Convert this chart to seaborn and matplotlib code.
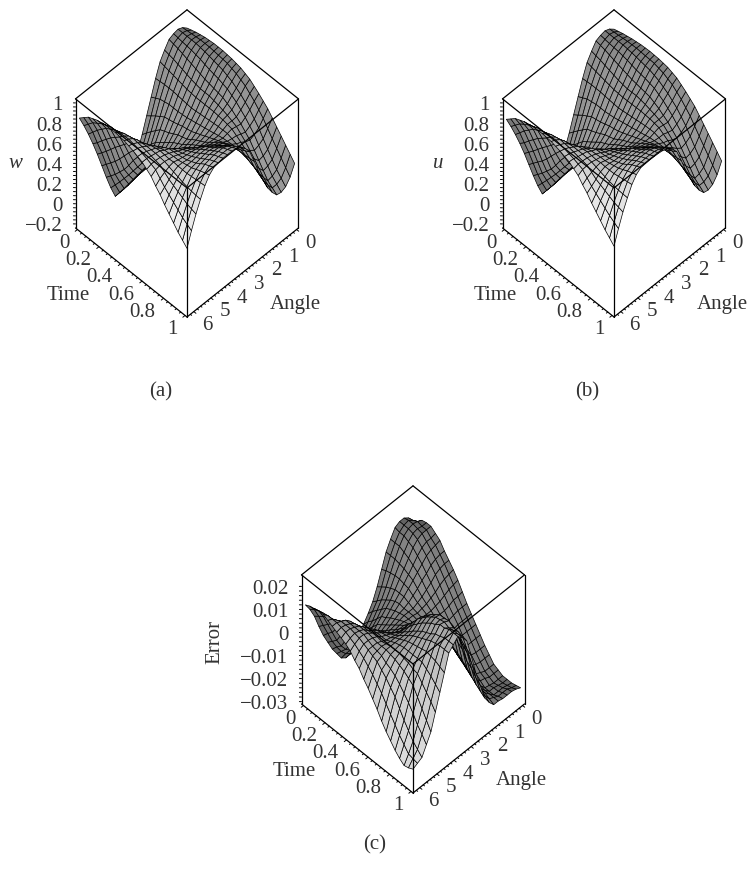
import numpy as np
import seaborn as sns
import matplotlib.pyplot as plt
from mpl_toolkits.mplot3d import proj3d

# rows are Time 0..1, columns are Angle 0..2pi (25 x 25 grid)
w_vals = [
    [.89, .93, .95, .94, .92, .85, .77, .64, .49, .34, .19, .06, -.06, -.14, -.19, -.21, -.21, -.09, .05, .20, .35, .49, .62, .74, .85],
    [.905, .935, .95, .935, .91, .84, .76, .645, .515, .375, .24, .12, .01, -.065, -.115, -.135, -.135, -.025, .10, .25, .40, .535, .675, .79, .89],
    [.92, .94, .95, .93, .90, .83, .75, .65, .54, .41, .29, .18, .08, .01, -.04, -.06, -.06, .04, .15, .30, .45, .59, .73, .84, .93],
    [.93, .945, .95, .925, .885, .815, .74, .65, .55, .44, .335, .235, .145, .08, .035, .02, .02, .11, .21, .35, .505, .64, .775, .87, .95],
    [.94, .95, .95, .92, .87, .80, .73, .65, .56, .47, .38, .29, .21, .15, .11, .10, .10, .18, .27, .41, .56, .69, .82, .90, .97],
    [.945, .95, .945, .91, .855, .785, .72, .645, .56, .48, .40, .325, .26, .215, .18, .175, .18, .255, .345, .475, .61, .73, .845, .92, .98],
    [.95, .95, .94, .90, .84, .77, .71, .64, .56, .49, .42, .36, .31, .28, .25, .25, .26, .33, .43, .54, .66, .77, .87, .94, .99],
    [.95, .945, .93, .885, .825, .76, .705, .635, .565, .505, .445, .395, .355, .335, .315, .325, .34, .405, .50, .60, .71, .805, .89, .945, .99],
    [.95, .94, .92, .87, .81, .75, .70, .63, .57, .52, .47, .43, .40, .39, .38, .40, .42, .48, .57, .66, .76, .84, .91, .95, .99],
    [.945, .935, .91, .86, .80, .75, .70, .635, .58, .53, .485, .455, .435, .435, .44, .465, .49, .54, .625, .705, .79, .86, .92, .955, .985],
    [.94, .93, .90, .85, .79, .75, .70, .64, .59, .54, .50, .48, .47, .48, .50, .53, .56, .60, .68, .75, .82, .88, .93, .96, .98],
    [.93, .915, .88, .835, .78, .74, .70, .645, .60, .56, .53, .515, .505, .525, .555, .585, .62, .655, .73, .785, .84, .885, .925, .95, .965],
    [.92, .90, .86, .82, .77, .73, .70, .65, .61, .58, .56, .55, .54, .57, .61, .64, .68, .71, .78, .82, .86, .89, .92, .94, .95],
    [.90, .875, .83, .79, .745, .715, .695, .655, .62, .60, .585, .58, .575, .615, .655, .685, .72, .75, .805, .835, .87, .89, .91, .925, .93],
    [.88, .85, .80, .76, .72, .70, .69, .66, .63, .62, .61, .61, .61, .66, .70, .73, .76, .79, .83, .85, .88, .89, .90, .91, .91],
    [.845, .81, .76, .72, .685, .68, .68, .66, .64, .64, .645, .65, .655, .70, .735, .76, .785, .805, .835, .855, .875, .885, .89, .89, .875],
    [.81, .77, .72, .68, .65, .66, .67, .66, .65, .66, .68, .69, .70, .74, .77, .79, .81, .82, .84, .86, .87, .88, .88, .87, .84],
    [.77, .72, .665, .63, .605, .62, .64, .645, .655, .68, .71, .725, .74, .78, .81, .825, .835, .84, .85, .86, .875, .865, .845, .82, .78],
    [.73, .67, .61, .58, .56, .58, .61, .63, .66, .70, .74, .76, .78, .82, .85, .86, .86, .86, .86, .87, .87, .85, .81, .77, .73],
    [.675, .605, .54, .51, .495, .53, .575, .615, .66, .71, .76, .79, .82, .855, .88, .89, .89, .885, .88, .88, .87, .835, .785, .73, .665],
    [.62, .54, .47, .44, .43, .48, .54, .60, .66, .72, .78, .82, .86, .89, .91, .92, .92, .91, .90, .89, .87, .82, .76, .69, .61],
    [.565, .48, .405, .375, .365, .425, .495, .57, .645, .725, .80, .85, .895, .925, .945, .95, .95, .94, .93, .91, .875, .81, .735, .65, .555],
    [.51, .42, .34, .31, .30, .37, .45, .54, .63, .73, .82, .88, .93, .96, .98, .98, .98, .97, .96, .93, .88, .80, .71, .61, .50],
    [.455, .36, .29, .265, .265, .33, .41, .51, .615, .735, .845, .91, .96, .985, 1.0, 1.0, 1.0, .99, .98, .945, .885, .795, .695, .58, .455],
    [.40, .30, .24, .22, .23, .29, .37, .48, .60, .74, .87, .94, .99, 1.01, 1.02, 1.02, 1.02, 1.01, 1.0, .96, .89, .79, .68, .55, .41],
]

# error in thousandths
err_milli = [
    [11, 14, 15.5, 15.5, 14.5, 11, 7, 1, -5, -10, -13.5, -16.5, -19, -22.5, -25, -25, -23.5, -20, -16.5, -12, -7.5, -2, 4, 8.5, 12],
    [12.5, 14.5, 16, 15.5, 14, 11, 7, 2, -3.5, -8, -11, -14, -16.5, -19, -21.5, -21.5, -20, -17.5, -14, -10, -5, 0, 5.5, 10, 13],
    [14.5, 15.5, 16, 15.5, 14, 11, 7, 2.5, -2, -6, -9, -12, -14, -16, -18, -18, -17, -15, -12, -8, -3, 2, 7, 11, 13.5],
    [15, 15, 15.5, 15, 13, 10, 6.5, 3, -1, -4.5, -7, -9.5, -11.5, -13.5, -15, -15, -14.5, -11.5, -8, -4, .5, 4, 8, 11.5, 14],
    [15, 15, 15, 14, 12, 9, 6, 3, 0, -3, -5, -7, -9, -11, -12, -12.5, -12, -8, -4, 0, 4, 6.5, 9, 12, 14],
    [13.5, 13, 13, 12, 10, 7.5, 5, 2.5, 0, -2, -4, -6, -7.5, -9, -10, -10, -9, -5, -1, 2.5, 6, 8, 10, 12, 13],
    [12, 11.5, 11, 10, 8, 6, 4, 2, 0, -1.5, -3, -4.5, -6, -7, -8, -7.5, -6, -2, 2, 5, 8, 10, 11, 12, 12],
    [9, 9, 8.5, 7.5, 5.5, 4, 2, .5, -1, -2, -2.5, -3.5, -4.5, -5.5, -6, -5, -2.5, .5, 3.5, 6, 8.5, 10, 11, 11.5, 11],
    [6.5, 6.5, 6, 5, 3, 1.5, 0, -1, -2, -2, -2, -2.5, -3, -3.5, -4, -2, 1, 3, 5, 7, 9, 10, 11, 11, 10],
    [4, 3.5, 3, 2, .5, -.5, -1.5, -2, -2.5, -2, -2, -1.5, -1.5, -2, -2, 0, 2, 4, 5.5, 7, 9, 10, 10.5, 10, 9],
    [1, .5, 0, -1, -2, -2.5, -3, -3, -3, -2.5, -2, -1, 0, 0, 0, 1.5, 3, 4.5, 6, 7.5, 9, 10, 10, 9, 7.5],
    [-2.5, -3, -3, -4, -4.5, -4.5, -4.5, -3.5, -3, -2, -.5, .5, 1.5, 2, 2, 3, 4, 5, 6, 7.5, 8.5, 9, 9, 7.5, 5],
    [-6, -6, -6, -6.5, -7, -6.5, -6, -4.5, -3, .5, 2.5, 3.5, 4.5, 5, 4.5, 4.5, 5, 5.5, 6, 7, 8, 8, 8, 6, 3],
    [-9, -9, -9, -9, -9.5, -8.5, -8, -6, -3.5, 1.5, 4.5, 6, 7, 7.5, 7, 6.5, 6.5, 7, 7, 7.5, 8, 7.5, 7, 4, 0],
    [-12, -12, -12, -12, -12, -11, -10, -7, -4, 3, 7, 8.5, 10, 10.5, 9.5, 8, 8, 8, 8, 8, 8, 7, 6, 2, -2.5],
    [-15, -15, -15, -15, -14.5, -13, -11.5, -8, -4, 3.5, 8.5, 10, 12, 12.5, 11.5, 10, 9.5, 9, 8.5, 8, 7.5, 5.5, 4, -.5, -5.5],
    [-18, -18, -18, -17.5, -17, -15, -13, -8.5, -4, 4.5, 10, 12, 14, 14.5, 13.5, 11.5, 11, 10, 9, 8, 7, 4.5, 2, -3, -8.5],
    [-20.5, -20.5, -20.5, -20, -19, -17, -14.5, -10, -5, 4, 10.5, 13, 15.5, 16, 15, 13, 12, 10.5, 9, 7.5, 6, 3, -.5, -6, -12],
    [-23, -23, -23, -22, -21, -18.5, -16, -11, -6, 4, 11, 14, 17, 17.5, 16.5, 14, 13, 11, 9, 7, 5, 1, -3, -9, -15],
    [-24, -24, -24, -23, -22.5, -20, -17.5, -12.5, -7.5, 2, 9.5, 13.5, 17, 18, 17.5, 15, 14, 11.5, 9, 6, 3.5, -1.5, -6.5, -12, -17.5],
    [-25, -25, -25, -24.5, -24, -21.5, -19, -14, -9, .5, 8.5, 13.5, 17.5, 18.5, 19, 16.5, 15, 12, 9, 5.5, 2, -4, -10, -15, -20],
    [-25, -25, -24.5, -24, -24, -22, -19.5, -15, -11, -3, 5.5, 11, 16, 17.5, 19, 17, 15.5, 11.5, 7.5, 3, -1.5, -7, -13, -17.5, -22],
    [-25, -24.5, -24, -24, -24, -22, -20, -16.5, -13, -4.5, 4, 10, 16, 18, 20, 18, 16, 11, 6, .5, -5, -10.5, -16, -20, -23.5],
    [-24.5, -24, -23, -23, -23, -22, -21, -18, -14.5, -7, 1, 8.5, 15.5, 18, 20, 18, 16, 10, 4, -2, -8.5, -13, -18, -20.5, -23],
    [-24, -23, -22.5, -22.5, -22.5, -22, -22, -19.5, -16, -9, -2, 7, 15, 18, 20, 18, 16, 9, 2, -5, -12, -16, -20, -21, -22],
]

time_ticks = [0, 0.2, 0.4, 0.6, 0.8, 1]
angle_ticks = [0, 1, 2, 3, 4, 5, 6]
w_ticks = [-0.2, 0, 0.2, 0.4, 0.6, 0.8, 1]
err_ticks = [-0.03, -0.02, -0.01, 0, 0.01, 0.02]

TEXT = "#333333"
FS = 15
sns.set_theme(style="white")
plt.rcParams["font.family"] = ["Liberation Serif", "DejaVu Serif"]
gray = sns.color_palette("gray", as_cmap=True)

fig = plt.figure(figsize=(7.48, 8.81), dpi=100)
W, H = 748, 881

err_vals = np.array(err_milli, float) * 1e-3
# u is w with the error taken off
u_vals = np.array(w_vals, float) - err_vals
angle = np.linspace(0, 6.283, len(w_vals[0]))
time = np.linspace(0, 1, len(w_vals))
xlim = (-0.113, 6.396)
ylim = (-0.018, 1.018)


def fmt(v):
    return f"{v:g}".replace("-", "\u2212")


def shade(z, zlim, base):
    # darker towards the back corner, brighter where faces turn to Time=1
    z = np.asarray(z, float) * 1.36 / (zlim[1] - zlim[0])
    nr, nc = z.shape
    zx = np.diff(z, axis=1)[:-1, :] * (nc - 1)
    zy = np.diff(z, axis=0)[:, :-1] * (nr - 1)
    norm = np.sqrt(zx**2 + zy**2 + 1)
    dot = (-zx * 0.6 - zy * 0.7 - 0.4) / norm
    a, b = np.meshgrid((np.arange(nc - 1) + 0.5) / (nc - 1), (np.arange(nr - 1) + 0.5) / (nr - 1))
    return np.clip(base + 0.38 * a * np.sqrt(b) + 0.1 * (dot + 0.4), 0, 1)


def to_px(ax, x, y, z):
    px, py, _ = proj3d.proj_transform(x, y, z, ax.get_proj())
    return ax.transData.transform((px, py))


def label(ax, text, x, y, z, dx, dy, **kw):
    px, py, _ = proj3d.proj_transform(x, y, z, ax.get_proj())
    ax.annotate(text, (px, py), xytext=(dx, dy - 3), textcoords="offset pixels",
                color=TEXT, fontsize=FS, va="center", annotation_clip=False, **kw)


def panel(vals, zlim, zticks, zname, front, tag, tag_xy, zname_xy, base, rot=0, style="normal"):
    ax = fig.add_axes([0.1, 0.1, 0.5, 0.5 * W / H], projection="3d")
    ax.set_proj_type("ortho")
    ax.view_init(elev=53, azim=45)
    ax.set_box_aspect((1, 1, 1.36), zoom=0.75)
    ax.set_xlim(*xlim)
    ax.set_ylim(*ylim)
    ax.set_zlim(*zlim)
    ax.set_axis_off()
    ax.computed_zorder = False
    ax.patch.set_alpha(0)

    # scale and move the axes so the box lands on the reference corners
    x0, x1 = xlim
    y0, y1 = ylim
    zlo, zhi = zlim
    fig.canvas.draw()
    size = 0.5 * W
    span = to_px(ax, x0, y1, zlo)[0] - to_px(ax, x1, y0, zlo)[0]
    size = size * 223 / span
    ax.set_position([0.1, 0.1, size / W, size / H])
    fig.canvas.draw()
    fx, fy = to_px(ax, x1, y1, zlo)
    ax.set_position([0.1 + (front[0] - fx) / W, 0.1 + ((H - front[1]) - fy) / H, size / W, size / H])
    fig.canvas.draw()

    xg, yg = np.meshgrid(angle, time)
    zg = np.array(vals, float)
    ax.plot_surface(xg, yg, zg, rstride=1, cstride=1, shade=False,
                    facecolors=gray(shade(zg, zlim, base)), edgecolor="black",
                    linewidth=0.5, zorder=2)

    edges = [
        ([x0, x1], [y0, y0], [zhi, zhi]), ([x0, x0], [y0, y1], [zhi, zhi]),
        ([x1, x1], [y0, y1], [zhi, zhi]), ([x0, x1], [y1, y1], [zhi, zhi]),
        ([x1, x1], [y1, y1], [zlo, zhi]), ([x1, x1], [y0, y0], [zlo, zhi]),
        ([x0, x0], [y1, y1], [zlo, zhi]), ([x1, x1], [y0, y1], [zlo, zlo]),
        ([x0, x1], [y1, y1], [zlo, zlo]),
    ]
    for ex, ey, ez in edges:
        ax.plot(ex, ey, ez, color="black", lw=0.9, zorder=5)

    # ticks on the three labelled edges
    for t in np.arange(0, 1.001, 0.04):
        ln = 0.13 if abs(t * 5 - round(t * 5)) < 1e-6 else 0.08
        ax.plot([x1, x1 + ln], [t, t], [zlo, zlo], color="black", lw=0.7, zorder=5)
    for t in np.arange(0, 6.3, 0.2):
        ln = 0.02 if abs(t - round(t)) < 1e-6 else 0.012
        ax.plot([t, t], [y1, y1 + ln], [zlo, zlo], color="black", lw=0.7, zorder=5)
    step = (zticks[1] - zticks[0]) / 5
    for v in np.arange(zticks[0], zticks[-1] + step / 2, step):
        ax.plot([x1, x1 + 0.06], [y0, y0 - 0.01], [v, v], color="black", lw=0.7, zorder=5)

    for t in time_ticks:
        label(ax, fmt(t), x1, t, zlo, -8, -11, ha="right")
    for t in angle_ticks:
        label(ax, fmt(t), t, y1, zlo, 14, -11, ha="center")
    for v in zticks:
        label(ax, fmt(v), x1, y0, v, -13, 0, ha="right")

    fig.text((front[0] - 119) / W, 1 - (front[1] - 22) / H, "Time", color=TEXT, fontsize=FS, ha="center", va="center")
    fig.text((front[0] + 108) / W, 1 - (front[1] - 13) / H, "Angle", color=TEXT, fontsize=FS, ha="center", va="center")
    fig.text(zname_xy[0] / W, 1 - (zname_xy[1] + 2) / H, zname, color=TEXT, fontsize=FS, ha="center", va="center",
             rotation=rot, style=style)
    fig.text(tag_xy[0] / W, 1 - (tag_xy[1] + 2) / H, tag, color=TEXT, fontsize=FS, ha="center", va="center")


panel(w_vals, (-0.24, 1.04), w_ticks, "w", (187, 317), "(a)", (161, 390), (15, 162), 0.47, style="italic")
panel(u_vals, (-0.24, 1.04), w_ticks, "u", (614, 317), "(b)", (587, 390), (438, 162), 0.47, style="italic")
panel(err_vals, (-0.031, 0.025), err_ticks, "Error", (413, 793), "(c)", (375, 843), (215, 640), 0.40, rot=90)

fig.savefig("out.png", dpi=100)
